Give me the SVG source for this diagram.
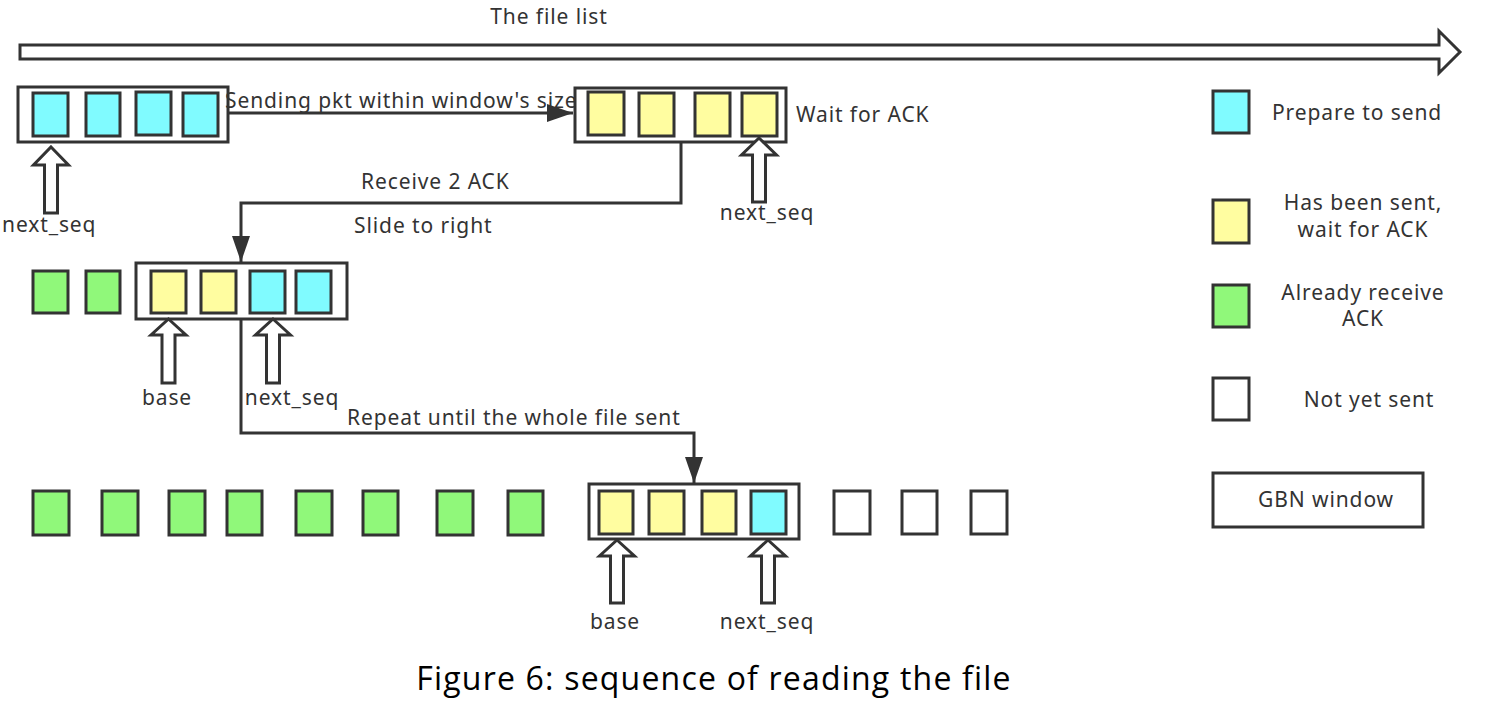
<svg xmlns="http://www.w3.org/2000/svg" width="1492" height="714" viewBox="0 0 1492 714">
<style>
.cell{stroke:#333;stroke-width:3}
.c{fill:#80FBFF}
.y{fill:#FFFDA0}
.g{fill:#90F87A}
.w{fill:#fff}
.win{fill:none;stroke:#333;stroke-width:3}
.ptr{fill:#fff;stroke:#333;stroke-width:3;stroke-linejoin:miter}
.t{font-family:"Noto Sans","Open Sans",sans-serif;font-size:21px;letter-spacing:0.9px;fill:#333}
.m{text-anchor:middle}
.conn{fill:none;stroke:#333;stroke-width:3}
</style>
<defs>
<marker id="ah" markerUnits="userSpaceOnUse" markerWidth="26" markerHeight="18" refX="26" refY="9" orient="auto">
<path d="M0,0 L26,9 L0,18 Z" fill="#333"/>
</marker>
</defs>
<rect width="1492" height="714" fill="#fff"/>

<g id="filelist">
<path class="ptr" d="M20,45 L1439,45 L1439,31 L1460,52 L1439,73 L1439,59 L20,59 Z"/>
<text class="t m" x="549" y="24">The file list</text>
</g>

<g id="connectors">
<path class="conn" d="M228,113 L573,113" marker-end="url(#ah)"/>
<path class="conn" d="M681,142 L681,203 L241,203 L241,262" marker-end="url(#ah)"/>
<path class="conn" d="M241,319 L241,433 L694,433 L694,483" marker-end="url(#ah)"/>
<text class="t" x="225" y="108">Sending pkt within window's size</text>
<text class="t" x="361" y="189">Receive 2 ACK</text>
<text class="t" x="354" y="233">Slide to right</text>
<text class="t" x="347" y="425">Repeat until the whole file sent</text>
</g>

<g id="window1">
<rect class="win" x="18" y="87" width="210" height="55"/>
<rect class="cell c" x="33" y="93" width="35" height="43"/>
<rect class="cell c" x="86" y="93" width="34" height="43"/>
<rect class="cell c" x="136" y="92" width="35" height="43"/>
<rect class="cell c" x="183" y="93" width="35" height="43"/>
<path class="ptr" d="M51,147 L68.5,165 L57.5,165 L57.5,213 L44.5,213 L44.5,165 L33.5,165 Z"/>
<text class="t" x="2" y="232">next_seq</text>
</g>

<g id="window2">
<rect class="win" x="575" y="88" width="211" height="54"/>
<rect class="cell y" x="588" y="92" width="36" height="43"/>
<rect class="cell y" x="639" y="93" width="35" height="43"/>
<rect class="cell y" x="695" y="93" width="35" height="43"/>
<rect class="cell y" x="742" y="93" width="35" height="43"/>
<text class="t" x="796" y="122">Wait for ACK</text>
<path class="ptr" d="M759,138 L776.5,155 L765.5,155 L765.5,202 L752.5,202 L752.5,155 L741.5,155 Z"/>
<text class="t m" x="767" y="220">next_seq</text>
</g>

<g id="window3">
<rect class="cell g" x="33" y="271" width="35" height="42"/>
<rect class="cell g" x="86" y="271" width="34" height="42"/>
<rect class="win" x="136" y="263" width="211" height="56"/>
<rect class="cell y" x="151" y="271" width="35" height="42"/>
<rect class="cell y" x="201" y="271" width="35" height="42"/>
<rect class="cell c" x="250" y="271" width="35" height="42"/>
<rect class="cell c" x="296" y="271" width="35" height="42"/>
<path class="ptr" d="M168.5,319 L186,335 L175,335 L175,383 L162,383 L162,335 L151,335 Z"/>
<path class="ptr" d="M273,319 L290.5,335 L279.5,335 L279.5,383 L266.5,383 L266.5,335 L255.5,335 Z"/>
<text class="t m" x="167" y="405">base</text>
<text class="t m" x="292" y="405">next_seq</text>
</g>

<g id="window4">
<rect class="cell g" x="33" y="491" width="36" height="44"/>
<rect class="cell g" x="102" y="491" width="36" height="44"/>
<rect class="cell g" x="169" y="491" width="36" height="44"/>
<rect class="cell g" x="227" y="491" width="35" height="44"/>
<rect class="cell g" x="296" y="491" width="36" height="44"/>
<rect class="cell g" x="363" y="491" width="35" height="44"/>
<rect class="cell g" x="437" y="491" width="36" height="44"/>
<rect class="cell g" x="508" y="491" width="35" height="44"/>
<rect class="win" x="589" y="484" width="210" height="55"/>
<rect class="cell y" x="599" y="491" width="34" height="43"/>
<rect class="cell y" x="649" y="491" width="35" height="43"/>
<rect class="cell y" x="702" y="491" width="34" height="43"/>
<rect class="cell c" x="751" y="491" width="35" height="43"/>
<rect class="cell w" x="834" y="491" width="36" height="43"/>
<rect class="cell w" x="902" y="491" width="35" height="43"/>
<rect class="cell w" x="971" y="491" width="36" height="43"/>
<path class="ptr" d="M617,540 L634.5,556 L623.5,556 L623.5,603 L610.5,603 L610.5,556 L599.5,556 Z"/>
<path class="ptr" d="M768,540 L785.5,556 L774.5,556 L774.5,603 L761.5,603 L761.5,556 L750.5,556 Z"/>
<text class="t m" x="615" y="629">base</text>
<text class="t m" x="767" y="629">next_seq</text>
</g>

<g id="legend">
<rect class="cell c" x="1213" y="91" width="36" height="42"/>
<text class="t" x="1272" y="120">Prepare to send</text>
<rect class="cell y" x="1213" y="200" width="36" height="43"/>
<text class="t m" x="1363" y="210">Has been sent,</text>
<text class="t m" x="1363" y="237">wait for ACK</text>
<rect class="cell g" x="1213" y="285" width="36" height="42"/>
<text class="t m" x="1363" y="300">Already receive</text>
<text class="t m" x="1363" y="326">ACK</text>
<rect class="cell w" x="1213" y="378" width="36" height="42"/>
<text class="t m" x="1369" y="407">Not yet sent</text>
<rect class="win" x="1213" y="473" width="210" height="54"/>
<text class="t m" x="1326" y="507">GBN window</text>
</g>

<g id="caption">
<text x="714" y="690" text-anchor="middle" style="font-family:'Open Sans','Noto Sans',sans-serif;font-size:32px;letter-spacing:1.2px;fill:#000">Figure 6: sequence of reading the file</text>
</g>
</svg>
